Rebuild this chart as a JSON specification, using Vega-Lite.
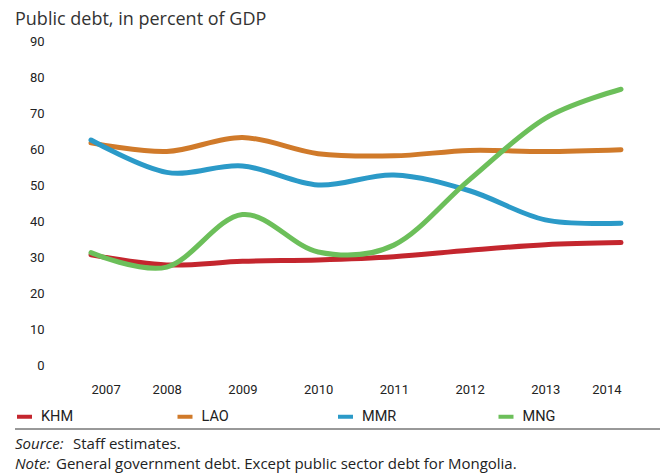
{
  "$schema": "https://vega.github.io/schema/vega-lite/v6.json",
  "width": 530,
  "height": 324,
  "autosize": "none",
  "padding": {"left": 91, "top": 41, "right": 39, "bottom": 109},
  "background": "white",
  "config": {"view": {"stroke": null}},
  "title": {
    "text": "Public debt, in percent of GDP",
    "anchor": "start",
    "frame": "group",
    "dx": -76,
    "dy": 22,
    "offset": 14,
    "baseline": "alphabetic",
    "font": "Open Sans",
    "fontSize": 18,
    "fontWeight": "normal",
    "color": "#333333"
  },
  "layer": [
    {
      "data": {
        "values": [
          {"country": "KHM", "year": 2007, "value": 30.6},
          {"country": "KHM", "year": 2008, "value": 27.8},
          {"country": "KHM", "year": 2009, "value": 28.8},
          {"country": "KHM", "year": 2010, "value": 29.2},
          {"country": "KHM", "year": 2011, "value": 30.1},
          {"country": "KHM", "year": 2012, "value": 31.9},
          {"country": "KHM", "year": 2013, "value": 33.4},
          {"country": "KHM", "year": 2014, "value": 34.0},
          {"country": "LAO", "year": 2007, "value": 61.7},
          {"country": "LAO", "year": 2008, "value": 59.3},
          {"country": "LAO", "year": 2009, "value": 63.2},
          {"country": "LAO", "year": 2010, "value": 58.7},
          {"country": "LAO", "year": 2011, "value": 58.1},
          {"country": "LAO", "year": 2012, "value": 59.6},
          {"country": "LAO", "year": 2013, "value": 59.3},
          {"country": "LAO", "year": 2014, "value": 59.8},
          {"country": "MMR", "year": 2007, "value": 62.5},
          {"country": "MMR", "year": 2008, "value": 53.5},
          {"country": "MMR", "year": 2009, "value": 55.3},
          {"country": "MMR", "year": 2010, "value": 50.0},
          {"country": "MMR", "year": 2011, "value": 52.8},
          {"country": "MMR", "year": 2012, "value": 48.4},
          {"country": "MMR", "year": 2013, "value": 40.3},
          {"country": "MMR", "year": 2014, "value": 39.4},
          {"country": "MNG", "year": 2007, "value": 31.2},
          {"country": "MNG", "year": 2008, "value": 27.2},
          {"country": "MNG", "year": 2009, "value": 41.8},
          {"country": "MNG", "year": 2010, "value": 31.4},
          {"country": "MNG", "year": 2011, "value": 33.3},
          {"country": "MNG", "year": 2012, "value": 51.5},
          {"country": "MNG", "year": 2013, "value": 68.5},
          {"country": "MNG", "year": 2014, "value": 76.6}
        ]
      },
      "mark": {"type": "line", "interpolate": "cardinal", "strokeWidth": 5, "strokeCap": "round", "strokeJoin": "round"},
      "encoding": {
        "x": {
          "field": "year",
          "type": "quantitative",
          "scale": {"domain": [2007, 2014], "nice": false, "zero": false},
          "axis": {
            "title": null,
            "values": [2007, 2008, 2009, 2010, 2011, 2012, 2013, 2014],
            "format": "d",
            "grid": false,
            "domain": false,
            "ticks": false,
            "labelPadding": 18,
            "labelFont": "Roboto",
            "labelFontSize": 13,
            "labelColor": "#222222"
          }
        },
        "y": {
          "field": "value",
          "type": "quantitative",
          "scale": {"domain": [0, 90], "nice": false},
          "axis": {
            "title": null,
            "values": [0, 10, 20, 30, 40, 50, 60, 70, 80, 90],
            "grid": false,
            "domain": false,
            "ticks": false,
            "labelPadding": 47,
            "labelFont": "Roboto",
            "labelFontSize": 13,
            "labelColor": "#222222"
          }
        },
        "color": {
          "field": "country",
          "type": "nominal",
          "scale": {"domain": ["KHM", "LAO", "MMR", "MNG"], "range": ["#C4262E", "#D07A2A", "#2B9AC8", "#6CBF5A"]},
          "legend": {
            "title": null,
            "orient": "none",
            "legendX": -76,
            "legendY": 366,
            "direction": "horizontal",
            "columns": 4,
            "gridAlign": "all",
            "columnPadding": 93.5,
            "symbolType": "stroke",
            "symbolSize": 225,
            "symbolStrokeWidth": 4,
            "labelOffset": 7,
            "labelFont": "Roboto",
            "labelFontSize": 14.5,
            "labelColor": "#222222"
          }
        }
      }
    },
    {
      "data": {"values": [{"x0": 0}]},
      "mark": {"type": "rule", "color": "#333333", "strokeWidth": 1},
      "encoding": {
        "x": {"value": -76},
        "x2": {"value": 569},
        "y": {"value": 388}
      }
    },
    {
      "data": {"values": [{"t": "Source:"}]},
      "mark": {"type": "text", "align": "left", "baseline": "middle", "font": "Open Sans", "fontSize": 15, "fontStyle": "italic", "color": "#222222"},
      "encoding": {"text": {"field": "t"}, "x": {"value": -76}, "y": {"value": 403}}
    },
    {
      "data": {"values": [{"t": "Staff estimates."}]},
      "mark": {"type": "text", "align": "left", "baseline": "middle", "font": "Open Sans", "fontSize": 15, "color": "#222222"},
      "encoding": {"text": {"field": "t"}, "x": {"value": -18}, "y": {"value": 403}}
    },
    {
      "data": {"values": [{"t": "Note:"}]},
      "mark": {"type": "text", "align": "left", "baseline": "middle", "font": "Open Sans", "fontSize": 15, "fontStyle": "italic", "color": "#222222"},
      "encoding": {"text": {"field": "t"}, "x": {"value": -76}, "y": {"value": 423}}
    },
    {
      "data": {"values": [{"t": "General government debt. Except public sector debt for Mongolia."}]},
      "mark": {"type": "text", "align": "left", "baseline": "middle", "font": "Open Sans", "fontSize": 15, "color": "#222222"},
      "encoding": {"text": {"field": "t"}, "x": {"value": -35}, "y": {"value": 423}}
    }
  ]
}
